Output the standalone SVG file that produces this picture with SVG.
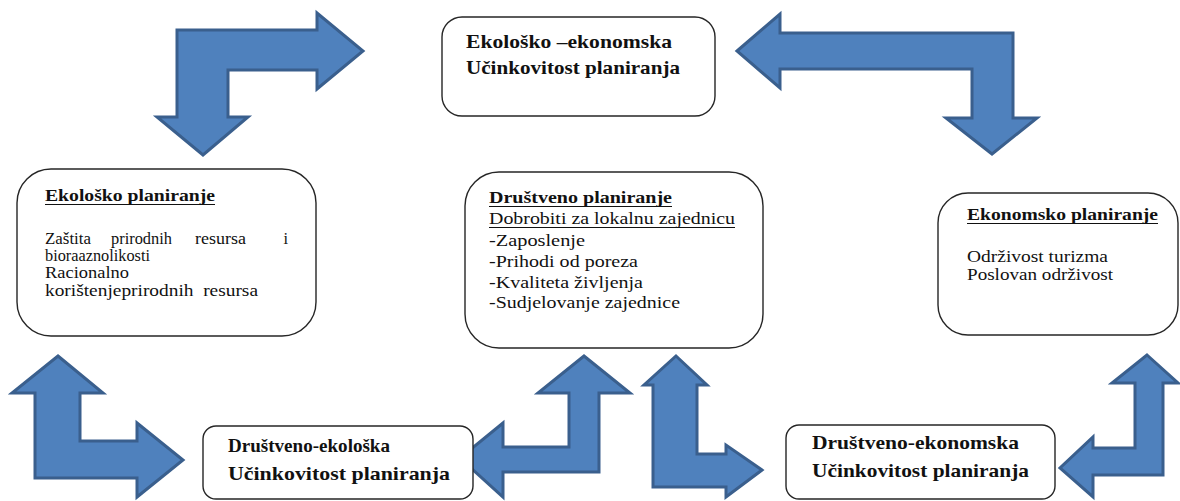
<svg xmlns="http://www.w3.org/2000/svg" width="1180" height="501" viewBox="0 0 1180 501">
<style>
.box{fill:#fff;stroke:#262626;stroke-width:1.4}
.arr{fill:#4F81BD;stroke:#3A5F8D;stroke-width:3;stroke-linejoin:miter}
.tx text{fill:#111}
.t{font-size:19px;font-weight:bold}
.h{font-size:16.5px;font-weight:bold}
.b{font-size:16.5px}
.u{stroke:#111;stroke-width:1.2}
</style>
<rect width="1180" height="501" fill="#fff"/>
<g id="connectors">
<path class="arr" d="M177,30 L317,30 L317,13 L363,51 L317,89 L317,70 L228,70 L228,117 L248,117 L203,155 L157,117 L177,117 Z"/>
<path class="arr" d="M737,51 L780,14 L780,33 L1013,33 L1013,118 L1037,118 L992,154 L946,118 L972,118 L972,69 L780,69 L780,88 Z"/>
<path class="arr" d="M58,356 L103,393 L80,393 L80,441 L137,441 L137,423 L183,460 L137,497 L137,478 L35,478 L35,393 L12,393 Z"/>
<path class="arr" d="M584,356 L630,393 L599,393 L599,472 L503,472 L503,497 L460,458 L503,423 L503,447 L569,447 L569,393 L538,393 Z"/>
<path class="arr" d="M676,356 L707,385 L697,385 L697,454 L726,454 L726,445 L762,470 L726,497 L726,487 L653,487 L653,385 L644,385 Z"/>
<path class="arr" d="M1147,355 L1178,383 L1163,383 L1163,475 L1093,475 L1093,497 L1060,468 L1093,437 L1093,448 L1135,448 L1135,383 L1112,383 Z"/>
</g>
<g id="top" class="tx" font-family="Liberation Serif, Tinos, Times New Roman, DejaVu Serif, serif">
<rect class="box" x="442" y="17" width="273" height="99" rx="20"/>
<text class="t" x="466" y="48" textLength="206" lengthAdjust="spacingAndGlyphs">Ekološko –ekonomska</text>
<text class="t" x="466" y="74" textLength="214" lengthAdjust="spacingAndGlyphs">Učinkovitost planiranja</text>
</g>
<g id="left" class="tx" font-family="Liberation Serif, Tinos, Times New Roman, DejaVu Serif, serif">
<rect class="box" x="17" y="169" width="299" height="167" rx="34"/>
<text class="h" x="45" y="201" textLength="170" lengthAdjust="spacingAndGlyphs">Ekološko planiranje</text>
<line class="u" x1="45" y1="204.5" x2="215" y2="204.5"/>
<text class="b" x="45" y="244" textLength="46" lengthAdjust="spacingAndGlyphs">Zaštita</text>
<text class="b" x="111" y="244" textLength="61" lengthAdjust="spacingAndGlyphs">prirodnih</text>
<text class="b" x="195" y="244" textLength="51" lengthAdjust="spacingAndGlyphs">resursa</text>
<text class="b" x="288" y="244" text-anchor="end">i</text>
<text class="b" x="45" y="261" textLength="105" lengthAdjust="spacingAndGlyphs">bioraaznolikosti</text>
<text class="b" x="45" y="278" textLength="84" lengthAdjust="spacingAndGlyphs">Racionalno</text>
<text class="b" x="45" y="296" textLength="213" lengthAdjust="spacingAndGlyphs" xml:space="preserve">korištenjeprirodnih  resursa</text>
</g>
<g id="center" class="tx" font-family="Liberation Serif, Tinos, Times New Roman, DejaVu Serif, serif">
<rect class="box" x="465" y="172" width="298" height="176" rx="34"/>
<text class="h" x="489" y="203" textLength="183" lengthAdjust="spacingAndGlyphs">Društveno planiranje</text>
<line class="u" x1="489" y1="206.5" x2="672" y2="206.5"/>
<text class="b" x="489" y="224" textLength="246" lengthAdjust="spacingAndGlyphs">Dobrobiti za lokalnu zajednicu</text>
<line class="u" x1="489" y1="227.5" x2="735" y2="227.5"/>
<text class="b" x="489" y="246" textLength="96" lengthAdjust="spacingAndGlyphs">-Zaposlenje</text>
<text class="b" x="489" y="267" textLength="149" lengthAdjust="spacingAndGlyphs">-Prihodi od poreza</text>
<text class="b" x="489" y="288" textLength="154" lengthAdjust="spacingAndGlyphs">-Kvaliteta življenja</text>
<text class="b" x="489" y="308" textLength="191" lengthAdjust="spacingAndGlyphs">-Sudjelovanje zajednice</text>
</g>
<g id="right" class="tx" font-family="Liberation Serif, Tinos, Times New Roman, DejaVu Serif, serif">
<rect class="box" x="938" y="193" width="240" height="142" rx="30"/>
<text class="h" x="967" y="220" textLength="191" lengthAdjust="spacingAndGlyphs">Ekonomsko planiranje</text>
<line class="u" x1="967" y1="223.5" x2="1158" y2="223.5"/>
<text class="b" x="967" y="262" textLength="141" lengthAdjust="spacingAndGlyphs">Održivost turizma</text>
<text class="b" x="967" y="280" textLength="146" lengthAdjust="spacingAndGlyphs">Poslovan održivost</text>
</g>
<g id="bottom-left" class="tx" font-family="Liberation Serif, Tinos, Times New Roman, DejaVu Serif, serif">
<rect class="box" x="203" y="426" width="270" height="73" rx="13"/>
<text class="t" x="228" y="452" textLength="162" lengthAdjust="spacingAndGlyphs">Društveno-ekološka</text>
<text class="t" x="228" y="480" textLength="222" lengthAdjust="spacingAndGlyphs">Učinkovitost planiranja</text>
</g>
<g id="bottom-right" class="tx" font-family="Liberation Serif, Tinos, Times New Roman, DejaVu Serif, serif">
<rect class="box" x="786" y="425" width="269" height="74" rx="13"/>
<text class="t" x="812" y="449" textLength="207" lengthAdjust="spacingAndGlyphs">Društveno-ekonomska</text>
<text class="t" x="812" y="477" textLength="217" lengthAdjust="spacingAndGlyphs">Učinkovitost planiranja</text>
</g>
</svg>
